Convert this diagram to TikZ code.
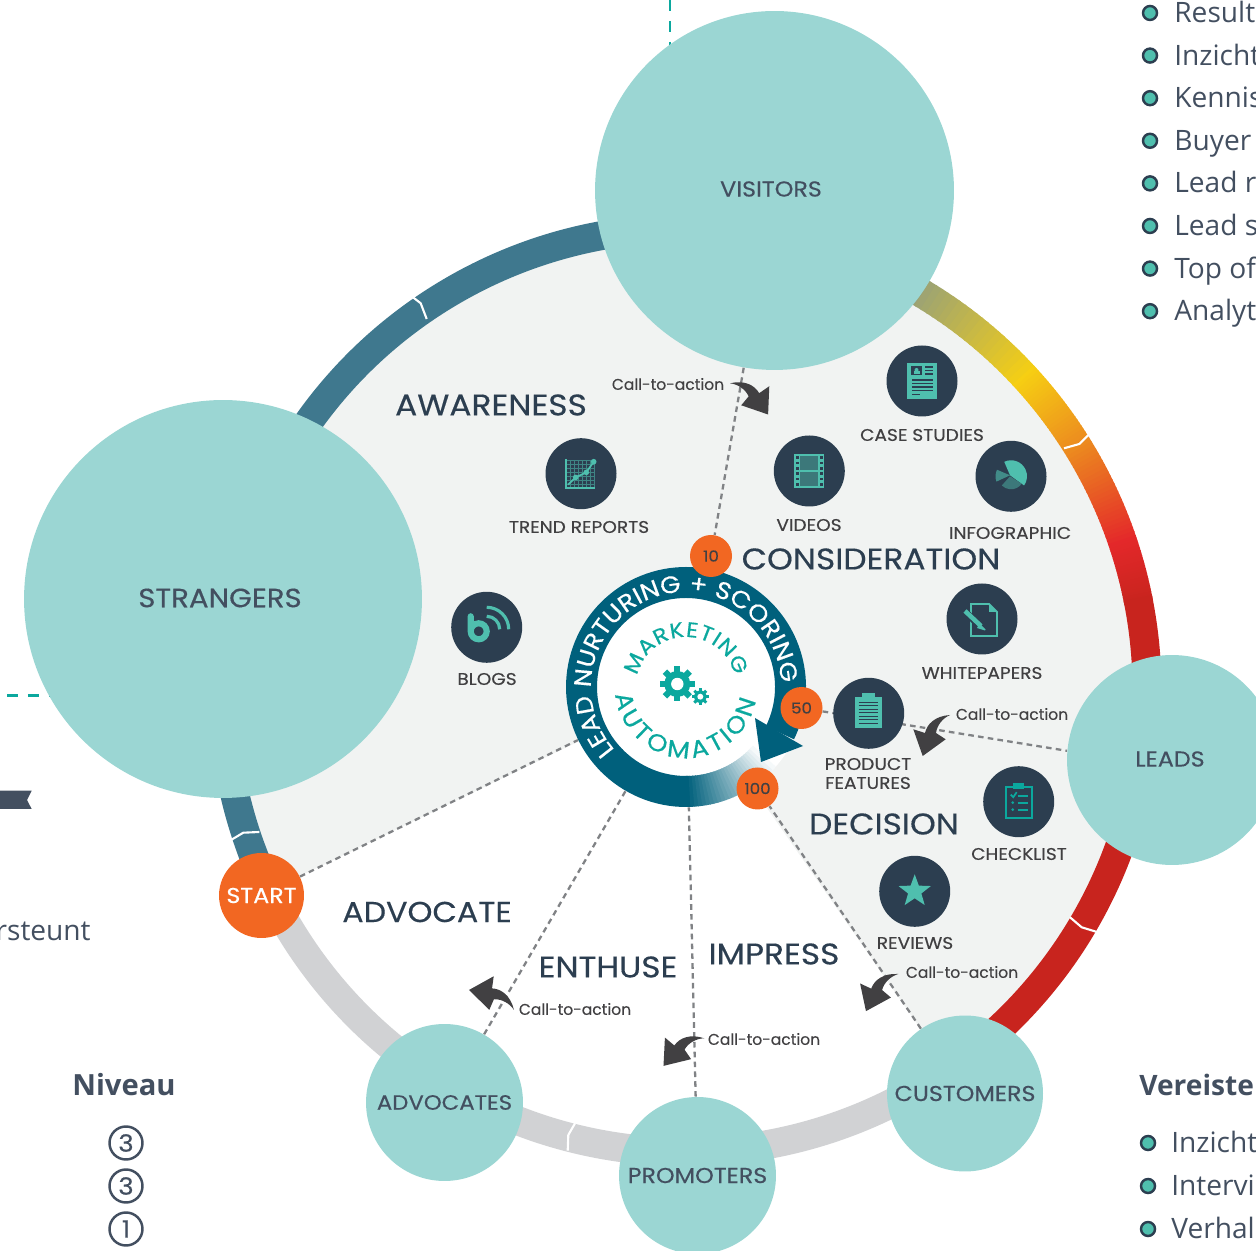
\documentclass[tikz,border=0pt]{standalone}
\usepackage{fontspec}
\setmainfont{Open Sans}
\newfontfamily\labelfont[FakeStretch=1.1, FakeBold=0.35]{Poppins}
\newfontfamily\ctafont[FakeBold=0.25]{Poppins}
\usetikzlibrary{backgrounds, decorations.text}

\definecolor{ballteal}{HTML}{9BD6D3}
\definecolor{panelgrey}{HTML}{F1F3F2}
\definecolor{ringblue}{HTML}{3F788E}
\definecolor{ringgrey}{HTML}{D1D2D4}
\definecolor{ringsage}{HTML}{83978F}
\definecolor{ringyellow}{HTML}{F6CF13}
\definecolor{ringorange}{HTML}{EC8A1F}
\definecolor{ringred}{HTML}{E4282A}
\definecolor{ringdark}{HTML}{C8241E}
\definecolor{hubblue}{HTML}{00607C}
\definecolor{hubteal}{HTML}{0BA89E}
\definecolor{startorange}{HTML}{F26722}
\definecolor{navy}{HTML}{2C3E50}
\definecolor{slate}{HTML}{434F60}
\definecolor{ink}{HTML}{414042}
\definecolor{icongreen}{HTML}{4FBFAE}
\definecolor{dashgrey}{HTML}{808285}

% arc made of short pieces: radius, centre, from, to, colour, colour
\newcommand{\blendarc}[6]{%
  \foreach \t in {0,...,24} {
    \pgfmathsetmacro\aa{#3+(#4-#3)*\t/25}
    \pgfmathsetmacro\ab{#3+(#4-#3)*(\t+1.3)/25}
    \pgfmathsetmacro\pct{4*\t}
    \draw[color={#6!\pct!#5}] ([shift={(\aa:#1)}]#2) arc[start angle=\aa, end angle=\ab, radius=#1];
  }
}

\tikzset{
  bigball/.style={circle, fill=ballteal, inner sep=0pt, minimum size=#1 cm, text=slate, font=\labelfont\fontsize{12.3}{14}\selectfont},
  balltext/.style={text=slate, inner sep=0pt, font=\labelfont\fontsize{12.3}{14}\selectfont},
  badge/.style={circle, fill=startorange, inner sep=0pt, minimum size=0.84cm, text=ink, font=\labelfont\fontsize{8.6}{10}\selectfont},
  iconball/.style={circle, fill=navy, inner sep=0pt, minimum size=1.42cm},
  iconlabel/.style={text=ink, align=center, inner sep=0pt, font=\labelfont\fontsize{9.6}{10.8}\selectfont},
  stagelabel/.style={text=navy, inner sep=0pt, font=\labelfont\fontsize{17}{18}\selectfont},
  ctalabel/.style={text=ink, inner sep=0pt, font=\ctafont\fontsize{8.85}{11}\selectfont},
  ringnotch/.style={white, line width=1.2pt},
  linkline/.style={dashgrey, line width=1.3pt, dash pattern=on 3.2pt off 2.4pt},
  tealdash/.style={hubteal, line width=1.5pt, dash pattern=on 6.2pt off 5.7pt},
  bullet/.style={circle, draw=navy, line width=1.4pt, fill=icongreen, inner sep=0pt, minimum size=0.28cm},
  listtext/.style={text=slate, inner sep=0pt, anchor=base west, font=\fontsize{16}{18}\selectfont},
  levelmark/.style={circle, draw=slate, line width=1.4pt, inner sep=0pt, minimum size=0.66cm, text=slate, font=\labelfont\fontsize{13.5}{14}\selectfont},
  % curved call-to-action arrow
  ctaarrow/.pic={
    \fill[ink] (0,0) .. controls (-15,-1) and (-23,-9) .. (-25,-18) -- (-36.7,-14.3) -- (-27.3,-41)
      -- (-4.3,-24.3) -- (-14,-18) .. controls (-13,-10) and (-7,-3) .. (0,0) -- cycle;
  },
  % gear
  gearmark/.pic={
    \foreach \a in {0,45,...,315}
      \fill[hubteal, rotate=\a] (-3.1,10) rectangle (3.1,17.5);
    \fill[hubteal] (0,0) circle (13);
    \fill[white] (0,0) circle (6.2);
  },
  trendicon/.pic={
    \foreach \v in {-11,-7,...,13} \draw[icongreen!55!navy, line width=0.3pt] (\v,-14) -- (\v,14);
    \foreach \v in {-11,-7,...,13} \draw[icongreen!55!navy, line width=0.3pt] (-15,\v) -- (14,\v);
    \draw[icongreen, line width=1.2pt] (-15.3,14.7) -- (-15.3,-14.7) -- (14.3,-14.7);
    \draw[icongreen, line width=1pt] (-13,-11) -- (-5.3,-3.7) -- (5.3,1.3) -- (12.7,12);
    \foreach \p in {(-5.3,-3.7),(5.3,1.3),(12.7,12)} \fill[icongreen] \p circle (2.8);
  },
  blogicon/.pic={
    \draw[icongreen, line width=3.5pt, line cap=round] (-16,11) -- (-16,-4) arc[start angle=180, end angle=-180, radius=8];
    \draw[icongreen, line width=1.8pt] (0,20) arc[start angle=90, end angle=0, radius=22];
    \draw[icongreen, line width=1.8pt] (0,11) arc[start angle=90, end angle=0, radius=13];
  },
  videoicon/.pic={
    \fill[icongreen] (-15,-17) rectangle (15,17);
    \fill[icongreen!45!navy] (-9,1) rectangle (9,15);
    \fill[icongreen!45!navy] (-9,-15) rectangle (9,-1);
    \foreach \v in {-13.5,-8,-2.5,2.5,8,13.5} {
      \fill[navy] (-13.5,\v-1.3) rectangle (-10.5,\v+1.3);
      \fill[navy] (10.5,\v-1.3) rectangle (13.5,\v+1.3);
    }
  },
  caseicon/.pic={
    \fill[icongreen] (-15,-18) rectangle (15,18);
    \fill[navy] (-11,6) rectangle (0,15);
    \fill[icongreen] (-5.5,11) circle (2);
    \fill[icongreen] (-8.5,7) rectangle (-2.5,9.5);
    \foreach \v in {14,10.5,7} \draw[navy, line width=0.8pt] (3,\v) -- (11,\v);
    \foreach \v in {1,-2.5,-6,-9.5} \draw[navy, line width=0.8pt] (-10,\v) -- (11,\v);
    \draw[navy, line width=0.8pt] (-10,-13.5) -- (-2,-13.5);
  },
  infoicon/.pic={
    \fill[icongreen] (-1,1) -- (115:16) arc[start angle=115, end angle=-35, radius=16] -- cycle;
    \fill[icongreen!45!navy] (-1,0) -- (-35:13) arc[start angle=-35, end angle=-135, radius=13] -- cycle;
    \fill[icongreen!60!navy] (-1,1) -- (-160:15.5) arc[start angle=-160, end angle=-205, radius=15.5] -- cycle;
  },
  papericon/.pic={
    \draw[icongreen, line width=1.1pt] (7,15) -- (-11,15) -- (-11,-17) -- (15,-17) -- (15,7) -- cycle;
    \fill[icongreen] (7,15) -- (15,7) -- (7,7) -- cycle;
    \draw[navy, line width=4pt] (-17,7) -- (3,-11);
    \draw[icongreen, line width=2.6pt] (-17,8) -- (-1,-7);
    \fill[icongreen] (-2.5,-4) -- (1.5,-8.5) -- (3.5,-10.5) -- (3,-11.5) -- (-5,-9) -- cycle;
  },
  clipicon/.pic={
    \fill[icongreen] (-14,-15) rectangle (13,16);
    \fill[icongreen] (-7,14) rectangle (6,20);
    \foreach \v in {11,7.5,4,0.5,-3,-6.5,-10} \draw[navy, line width=0.8pt] (-10,\v) -- (9,\v);
  },
  checkicon/.pic={
    \draw[hubteal, line width=1.1pt] (-13,-16) rectangle (13,15);
    \fill[hubteal] (-5.5,13) rectangle (5.5,18.5);
    \draw[hubteal, line width=1pt] (-8,7) -- (-5.5,4.5) -- (-2,9.5);
    \fill[hubteal] (-6,-1) circle (1.5);
    \fill[hubteal] (-6,-8) circle (1.5);
    \foreach \v in {6,-1,-8} \draw[hubteal, line width=1pt] (-1,\v) -- (9,\v);
  },
  staricon/.pic={
    \fill[icongreen] (90:17) \foreach \a/\r in {126/7,162/17,198/7,234/17,270/7,306/17,342/7,18/17,54/7} { -- (\a:\r) } -- cycle;
  },
}

\begin{document}
\begin{tikzpicture}[x=0.02cm, y=0.02cm]
    \useasboundingbox (0,0) rectangle (1256,1250);
    \clip (0,0) rectangle (1256,1250);

    % Balls on the ring
    \node[bigball=7.18] (visitors) at (774.5,1059.5) {};
    \node[balltext] (visitorstext) at (771,1061) {VISITORS};
    \node[bigball=7.96] (strangers) at (223,651) {};
    \node[balltext, font=\labelfont\fontsize{15.1}{16}\selectfont] (strangerstext) at (220,652) {STRANGERS};
    \node[bigball=4.2] (leads) at (1172,490) {};
    \node[balltext] (leadstext) at (1170,491) {LEADS};
    \node[bigball=3.12] (customers) at (965,156.5) {CUSTOMERS};
    \node[bigball=3.14] (promoters) at (697.5,74.5) {PROMOTERS};
    \node[bigball=3.14, font=\labelfont\fontsize{11.8}{14}\selectfont] (advocates) at (444.5,147.5) {ADVOCATES};
    \node[bigball=1.7, fill=startorange, text=white] (start) at (261.5,354.5) {START};

    % Hub
    \node[circle, fill=white, inner sep=0pt, minimum size=4.8cm] (hub) at (686,563) {};
    \begin{scope}[line width=0.62cm]
        \draw[hubblue] ([shift={(225:104.5)}]hub.center) arc[start angle=225, end angle=-26, radius=104.5];
        \draw[hubblue] ([shift={(224:104.5)}]hub.center) arc[start angle=224, end angle=271, radius=104.5];
        \blendarc{104.5}{hub.center}{270}{318}{hubblue}{white}
    \end{scope}
    \fill[hubblue] (755,532) -- (803,504) -- (761,488) -- cycle;
    \path[decorate, decoration={text along path, text align={fit to path},
        text={|\labelfont\fontsize{13.6}{14}\selectfont\color{white}|LEAD NURTURING + SCORING}}]
        ([shift={(221.5:95)}]hub.center) arc[start angle=221.5, end angle=5.7, radius=95];
    \path[decorate, decoration={text along path, text align={fit to path},
        text={|\labelfont\fontsize{12}{14}\selectfont\color{hubteal}|MARKETING}}]
        ([shift={(167:50)}]hub.center) arc[start angle=167, end angle=13, radius=50];
    \path[decorate, decoration={text along path, text align={fit to path},
        text={|\labelfont\fontsize{13.6}{14}\selectfont\color{hubteal}|AUTOMATION}}]
        ([shift={(186:71)}]hub.center) arc[start angle=186, end angle=349, radius=71];
    \pic at (677.3,566) {gearmark};
    \pic[scale=0.48] at (700.3,553.3) {gearmark};

    % Score badges
    \node[badge] (ten) at (711,694) {10};
    \node[badge] (fifty) at (801.5,542) {50};
    \node[badge] (hundred) at (757.5,461.5) {100};

    % Content icons
    \node[iconball] (trend) at (581,776.3) {};
    \node[iconball] (blogs) at (486.7,622.7) {};
    \node[iconball] (videos) at (809.3,779) {};
    \node[iconball] (cases) at (922,869) {};
    \node[iconball] (infographic) at (1011,773.7) {};
    \node[iconball] (whitepapers) at (982,631) {};
    \node[iconball] (features) at (868.7,536.7) {};
    \node[iconball] (checklist) at (1018.7,448.3) {};
    \node[iconball] (reviews) at (914.7,358.7) {};
    \pic at (trend) {trendicon};
    \pic at (blogs) {blogicon};
    \pic at (videos) {videoicon};
    \pic at (cases) {caseicon};
    \pic at (infographic) {infoicon};
    \pic at (whitepapers) {papericon};
    \pic at (features) {clipicon};
    \pic at (checklist) {checkicon};
    \pic at (reviews) {staricon};
    \node[iconlabel] (trendtext) at (579,723) {TREND REPORTS};
    \node[iconlabel] (blogstext) at (487,571) {BLOGS};
    \node[iconlabel] (videostext) at (809,725) {VIDEOS};
    \node[iconlabel] (casestext) at (922,815) {CASE STUDIES};
    \node[iconlabel] (infotext) at (1010,717) {INFOGRAPHIC};
    \node[iconlabel] (papertext) at (982,577) {WHITEPAPERS};
    \node[iconlabel] (featurestext) at (868,476.5) {PRODUCT\\FEATURES};
    \node[iconlabel] (checktext) at (1019,396) {CHECKLIST};
    \node[iconlabel] (reviewstext) at (915,307) {REVIEWS};

    % Stages
    \node[stagelabel] (awareness) at (491,845) {AWARENESS};
    \node[stagelabel] (consideration) at (871,691) {CONSIDERATION};
    \node[stagelabel] (decision) at (884,426) {DECISION};
    \node[stagelabel, font=\labelfont\fontsize{16.4}{18}\selectfont] (advocate) at (427,338) {ADVOCATE};
    \node[stagelabel] (enthuse) at (608,283) {ENTHUSE};
    \node[stagelabel] (impress) at (774,296) {IMPRESS};

    % Call-to-action
    \node[ctalabel] (ctavisitors) at (668,866) {Call-to-action};
    \node[ctalabel] (ctaleads) at (1012,536) {Call-to-action};
    \node[ctalabel] (ctacustomers) at (962,278) {Call-to-action};
    \node[ctalabel] (ctapromoters) at (764,211) {Call-to-action};
    \node[ctalabel] (ctaadvocates) at (575,241) {Call-to-action};
    \pic at (950,535) {ctaarrow};
    \pic[rotate=-7.4] at (898.3,276) {ctaarrow};
    \pic[rotate=-22.3] at (704.3,211.7) {ctaarrow};
    \pic[rotate=-80.3] at (514,240) {ctaarrow};
    \pic[rotate=17, xscale=-1] at (730,866.7) {ctaarrow};

    % Ring and panel, under everything
    \begin{scope}[on background layer]
        \fill[panelgrey] (685,560) -- ++(205.8:450) arc[start angle=205.8, end angle=-55.2, radius=450] -- cycle;
        \begin{scope}[line width=0.58cm]
            \draw[ringgrey] ([shift={(-160:462)}]685,560) arc[start angle=-160, end angle=-50, radius=462];
            \draw[ringblue] ([shift={(210:462)}]685,560) arc[start angle=210, end angle=64, radius=462];
            \blendarc{462}{685,560}{64.2}{43}{ringsage}{ringyellow}
            \blendarc{462}{685,560}{43}{32}{ringyellow}{ringorange}
            \blendarc{462}{685,560}{32}{19}{ringorange}{ringred}
            \blendarc{462}{685,560}{19}{11}{ringred}{ringdark}
            \draw[ringdark] ([shift={(11.5:462)}]685,560) arc[start angle=11.5, end angle=-56, radius=462];
        \end{scope}
        \draw[ringnotch] (410,955) -- (420.7,946.7) -- (426.7,931);
        \draw[ringnotch] (1064,801.7) -- (1079.3,806) -- (1089.3,816);
        \draw[ringnotch] (1070,332.7) -- (1081.7,322.7) -- (1096,318.3);
        \draw[ringnotch] (575,126.7) -- (568.3,115) -- (567.7,99.3);
        \draw[ringnotch] (231,410) -- (243.3,417.3) -- (259.3,418);
        % Links
        \draw[linkline] (start) -- (hub);
        \draw[linkline] (advocates) -- (hub);
        \draw[linkline] (promoters) -- (hub);
        \draw[linkline] (customers) -- (hundred);
        \draw[linkline] (fifty) -- (leads.175);
        \draw[linkline] (visitors) -- (ten);
        % Bits of the neighbouring panels
        \coordinate (funneltop) at (670,1250);
        \coordinate (funnelfoot) at (670,1200);
        \coordinate (funnelleft) at (7,554.3);
        \coordinate (funnelright) at (60,554.3);
        \draw[tealdash] (funneltop) -- (funnelfoot);
        \draw[tealdash] (funnelleft) -- (funnelright);
    \end{scope}

    \fill[slate] (-1,459.3) -- (31.7,459.3) -- (27,450) -- (31.7,441) -- (-1,441) -- cycle;
    \node[text=slate, inner sep=0pt, anchor=base east, font=\fontsize{16}{18}\selectfont] (supportend) at (91,309) {rsteunt};

    % Right list
    \foreach \word [count=\i] in {Result,Inzicht,Kennis,Buyer,Lead r,Lead s,Top of,Analyt} {
        \pgfmathsetmacro\rowy{1237-42.6*(\i-1)}
        \node[bullet] (topdot\i) at (1150,\rowy) {};
        \node[listtext] (toptext\i) at (1174,\rowy-9.5) {\word};
    }

    % Level column
    \node[text=slate, inner sep=0pt, font=\bfseries\fontsize{16.6}{18}\selectfont] (niveau) at (124,165) {Niveau};
    \node[levelmark] (levela) at (126,107) {3};
    \node[levelmark] (levelb) at (126,64) {3};
    \node[levelmark] (levelc) at (126,21) {1};

    % Requirements list
    \node[text=slate, inner sep=0pt, anchor=west, font=\bfseries\fontsize{16}{18}\selectfont] (vereiste) at (1139,165) {Vereiste};
    \foreach \word/\rowy [count=\i] in {Inzicht/107,Intervi/64,Verhal/21} {
        \node[bullet] (lowdot\i) at (1148,\rowy) {};
        \node[listtext] (lowtext\i) at (1171,\rowy-9.5) {\word};
    }
\end{tikzpicture}
\end{document}
